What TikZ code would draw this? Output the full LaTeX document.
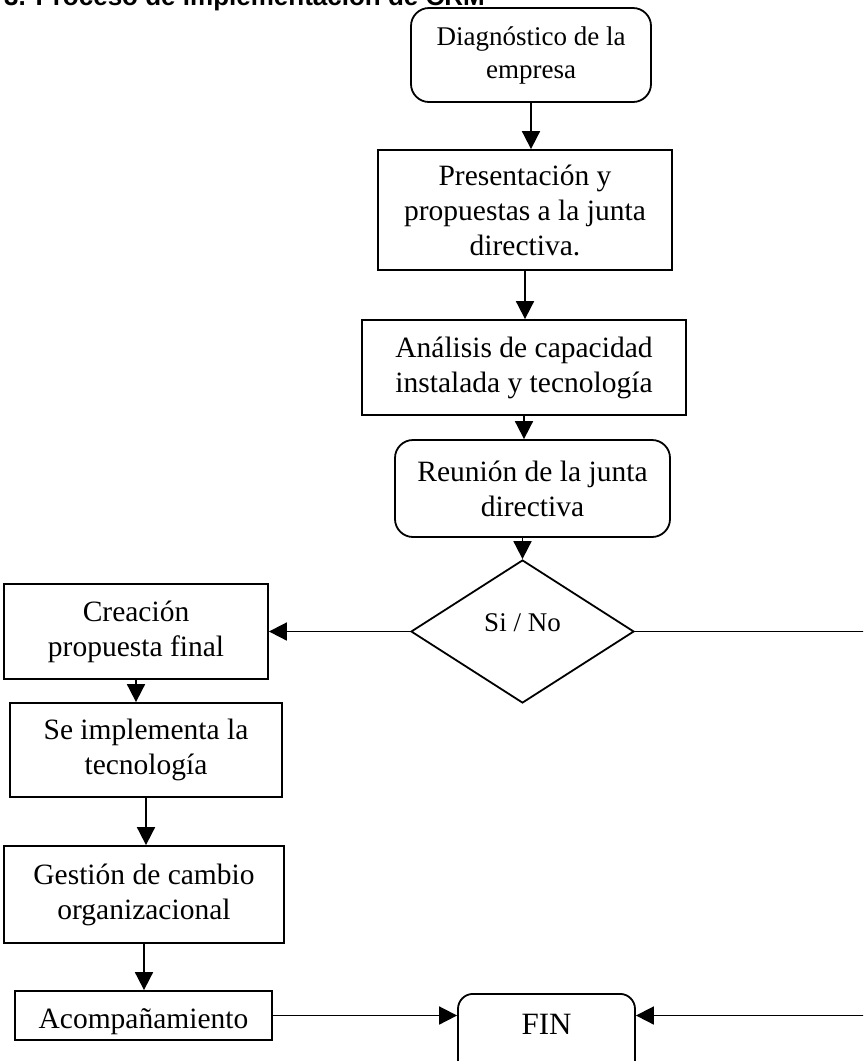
\documentclass[tikz,border=0pt]{standalone}
\usepackage{fontspec}
\setmainfont{Liberation Serif}
\newfontfamily\titlefont{Liberation Sans}
\usetikzlibrary{shapes.geometric,arrows.meta}

\begin{document}
\begin{tikzpicture}[x=1pt,y=-1pt,line width=1.8pt,
    >={Triangle[width=18pt,length=18pt]},
    caja/.style={draw,rectangle,align=center,inner sep=0pt,
      font=\fontsize{29.5}{35}\selectfont},
    redonda/.style={caja,rounded corners=18pt},
    decision/.style={draw,diamond,inner sep=0pt,text height=19pt,text depth=19pt,
      minimum width=223pt,minimum height=143pt,font=\fontsize{27}{30}\selectfont}]

  \path[use as bounding box,clip] (0,0) rectangle (863,1061);

  \node (titulo) [anchor=base west,font=\titlefont\bfseries\fontsize{26}{30}\selectfont]
    at (0,5) {3. Proceso de implementación de CRM};

  \begin{scope}[every node/.style={caja}]
    \node (pres) at (525,210) [minimum width=294pt,minimum height=120pt]
      {Presentación y\\propuestas a la junta\\directiva.};
    \node (anal) at (524,367.5) [minimum width=324pt,minimum height=95pt]
      {Análisis de capacidad\\instalada y tecnología};
    \node (crea) at (136,631.5) [minimum width=264pt,minimum height=95pt]
      {Creación\\propuesta final};
    \node (impl) at (146,750) [minimum width=272pt,minimum height=94pt]
      {Se implementa la\\tecnología};
    \node (gest) at (144,894.5) [minimum width=280pt,minimum height=97pt]
      {Gestión de cambio\\organizacional};
    \node (acom) at (143.5,1015.5) [minimum width=257pt,minimum height=49pt,
      text height=25pt,text depth=0pt] {Acompañamiento};
  \end{scope}

  \begin{scope}[every node/.style={redonda}]
    \node (diag) at (531,55) [minimum width=240pt,minimum height=94pt,
      font=\fontsize{27}{33}\selectfont] {Diagnóstico de la\\empresa};
    \node (reun) at (532.5,488.5) [minimum width=275pt,minimum height=97pt]
      {Reunión de la junta\\directiva};
    \node (fin) at (546.5,993) [anchor=north,minimum width=177pt,inner ysep=20pt,
      text height=21pt,text depth=32pt,rounded corners=15pt,
      font=\fontsize{31}{35}\selectfont] {FIN};
  \end{scope}

  \node (dec) at (522.5,631.5) [decision] {Si / No};

  \coordinate (dere) at (885,631.5);

  \draw[->] (diag.south) -- (diag.south |- pres.north);
  \draw[->] (pres.south) -- (pres.south |- anal.north);
  \draw[->] (anal.south) -- (anal.south |- reun.north);
  \draw[->] (dec.north |- reun.south) -- (dec.north);
  \draw[->] (dec.west) -- (crea.east);
  \draw[->] (crea.south) -- (crea.south |- impl.north);
  \draw[->] (impl.south) -- (impl.south |- gest.north);
  \draw[->] (gest.south) -- (gest.south |- acom.north);
  \draw[->] (acom.east) -- (acom.east -| fin.west);
  \draw[->] (dec.east) -- (dere) |- (acom.east -| fin.east);

\end{tikzpicture}
\end{document}
